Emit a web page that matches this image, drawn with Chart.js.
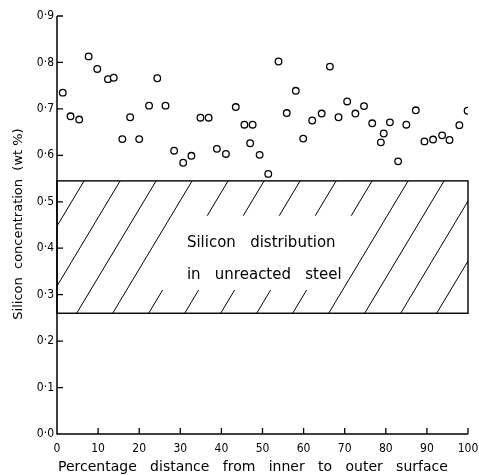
<!DOCTYPE html>
<html>
<head>
<meta charset="utf-8">
<script src="https://cdn.jsdelivr.net/npm/chart.js@4"></script>
<style>
  html, body { margin: 0; padding: 0; background: #fff; }
  #wrap { width: 479px; height: 475px; }
</style>
</head>
<body>
<div id="wrap"><canvas id="chart"></canvas></div>
<script>
// Measured silicon content across the oxidised layer
const distancePct = [1.4, 3.3, 5.4, 7.7, 9.8, 12.4, 13.8, 15.9, 17.8, 20.0,
  22.4, 24.4, 26.4, 28.5, 30.7, 32.7, 34.9, 36.9, 38.9, 41.1,
  43.5, 45.6, 47.6, 47.0, 49.3, 51.4, 53.9, 55.9, 58.1, 59.9,
  62.1, 64.4, 66.4, 68.5, 70.6, 72.6, 74.7, 76.7, 78.8, 79.5,
  81.0, 83.0, 85.0, 87.3, 89.4, 91.5, 93.7, 95.5, 97.9, 99.9];
const siliconWt = [0.735, 0.684, 0.677, 0.813, 0.786, 0.764, 0.767, 0.635, 0.682, 0.635,
  0.707, 0.766, 0.707, 0.610, 0.584, 0.599, 0.681, 0.681, 0.614, 0.603,
  0.704, 0.666, 0.666, 0.626, 0.601, 0.560, 0.802, 0.691, 0.739, 0.636,
  0.675, 0.690, 0.791, 0.682, 0.716, 0.690, 0.706, 0.669, 0.628, 0.647,
  0.671, 0.587, 0.666, 0.697, 0.630, 0.634, 0.643, 0.633, 0.665, 0.696];

// Range of silicon in the unreacted steel (wt %)
const steelRange = [0.26, 0.545];
const steelLabel = ['Silicon   distribution', 'in   unreacted   steel'];

const xTickLabels = ['0', '10', '20', '30', '40', '50', '60', '70', '80', '90', '100'];
const yTickLabels = ['0·0', '0·1', '0·2', '0·3', '0·4', '0·5', '0·6', '0·7', '0·8', '0·9'];
const xTitle = 'Percentage   distance   from   inner   to   outer   surface';
const yTitle = 'Silicon  concentration  (wt %)';

const tickValue = s => parseFloat(s.replace('·', '.'));
const FONT = "'DejaVu Sans', sans-serif";
const TICK_FONT = "'DejaVu Sans Condensed', 'DejaVu Sans', sans-serif";

// Hatched steel band with its caption, drawn under the points
const steelBand = {
  id: 'steelBand',
  beforeDatasetsDraw(chart) {
    const { ctx, scales: { x, y } } = chart;
    const L = x.getPixelForValue(0), R = x.getPixelForValue(100);
    const T = y.getPixelForValue(steelRange[1]), B = y.getPixelForValue(steelRange[0]);

    ctx.save();
    ctx.strokeStyle = '#000';
    ctx.lineWidth = 1.4;
    ctx.strokeRect(L, T, R - L, B - T);
    ctx.restore();

    // diagonal hatching, left open around the caption
    ctx.save();
    ctx.strokeStyle = '#000';
    ctx.lineWidth = 1;
    const run = 0.6 * (B - T);
    const gapTop = y.getPixelForValue(0.47), gapBot = y.getPixelForValue(0.31);
    const cutL = x.getPixelForValue(27.5), cutR = x.getPixelForValue(70);
    const segment = (b, y1, y2) => {
      const xAt = py => b + run * (B - py) / (B - T);
      let x1 = xAt(y1), x2 = xAt(y2), ya = y1, yb = y2;
      // trim to the band's left and right edges
      if (x2 < L) { yb = B - (L - b) * (B - T) / run; x2 = L; }
      if (x1 > R) { ya = B - (R - b) * (B - T) / run; x1 = R; }
      if (x1 <= L || x2 >= R || ya >= yb) return;
      ctx.moveTo(x1, ya); ctx.lineTo(x2, yb);
    };
    ctx.beginPath();
    for (let b = L + 19.7 - 2 * 36; b < R + 1; b += 36) {
      const mid = b + run / 2;
      if (mid > cutL && mid < cutR) {
        segment(b, T, gapTop);
        segment(b, gapBot, B);
      } else {
        segment(b, T, B);
      }
    }
    ctx.stroke();
    ctx.restore();

    ctx.save();
    ctx.font = '15px ' + FONT;
    ctx.fillStyle = '#000';
    ctx.textAlign = 'left';
    ctx.textBaseline = 'middle';
    const tx = x.getPixelForValue(31.6);
    ctx.fillText(steelLabel[0], tx, y.getPixelForValue(0.41));
    ctx.fillText(steelLabel[1], tx, y.getPixelForValue(0.342));
    ctx.restore();
  }
};

// Axis lines, inward ticks and axis titles
const frame = {
  id: 'frame',
  afterDatasetsDraw(chart) {
    const { ctx, scales: { x, y } } = chart;
    const L = x.getPixelForValue(0), R = x.getPixelForValue(100);
    const top = y.getPixelForValue(0.9), base = y.getPixelForValue(0);
    ctx.save();
    ctx.strokeStyle = '#000';
    ctx.lineWidth = 1.5;
    ctx.beginPath();
    ctx.moveTo(L, top);
    ctx.lineTo(L, base);
    ctx.lineTo(R, base);
    ctx.stroke();
    ctx.lineWidth = 1.3;
    ctx.beginPath();
    y.ticks.forEach(t => {
      if (t.value === 0) return;
      const py = y.getPixelForValue(t.value);
      ctx.moveTo(L, py); ctx.lineTo(L + 6, py);
    });
    x.ticks.forEach(t => {
      if (t.value === 0) return;
      const px = x.getPixelForValue(t.value);
      ctx.moveTo(px, base); ctx.lineTo(px, base - 6);
    });
    ctx.stroke();
    ctx.restore();

    ctx.save();
    ctx.fillStyle = '#000';
    ctx.textBaseline = 'middle';
    ctx.font = '14px ' + FONT;
    ctx.textAlign = 'left';
    ctx.fillText(xTitle, L + 1, 467);
    ctx.font = '13px ' + FONT;
    ctx.textAlign = 'center';
    ctx.translate(19, (top + base) / 2 - 1);
    ctx.rotate(-Math.PI / 2);
    ctx.fillText(yTitle, 0, 0);
    ctx.restore();
  }
};

new Chart(document.getElementById('chart'), {
  type: 'scatter',
  data: {
    datasets: [{
      data: distancePct.map((d, i) => ({ x: d, y: siliconWt[i] })),
      pointStyle: 'circle',
      pointRadius: 3.3,
      pointBorderWidth: 1.3,
      pointBorderColor: '#000',
      pointBackgroundColor: '#fff'
    }]
  },
  options: {
    responsive: true,
    maintainAspectRatio: false,
    animation: false,
    layout: { padding: { top: 16, right: 11, left: 0, bottom: 0 } },
    plugins: { legend: { display: false }, tooltip: { enabled: false } },
    scales: {
      x: {
        type: 'linear',
        min: 0, max: 100,
        afterFit(s) { s.height = 41; s.paddingLeft = 0; s.paddingRight = 0; },
        afterBuildTicks(s) { s.ticks = xTickLabels.map(l => ({ value: tickValue(l) })); },
        ticks: {
          padding: 8, maxRotation: 0, autoSkip: false, color: '#000',
          font: { family: TICK_FONT, size: 12 },
          callback: (v, i) => xTickLabels[i]
        },
        grid: { display: false, drawTicks: false },
        border: { display: false }
      },
      y: {
        type: 'linear',
        min: 0, max: 0.9,
        afterFit(s) { s.width = 57; s.paddingTop = 0; s.paddingBottom = 0; },
        afterBuildTicks(s) { s.ticks = yTickLabels.map(l => ({ value: tickValue(l) })); },
        ticks: {
          padding: 3, autoSkip: false, color: '#000',
          font: { family: TICK_FONT, size: 12 },
          callback: (v, i) => yTickLabels[i]
        },
        grid: { display: false, drawTicks: false },
        border: { display: false }
      }
    }
  },
  plugins: [steelBand, frame]
});
</script>
</body>
</html>
